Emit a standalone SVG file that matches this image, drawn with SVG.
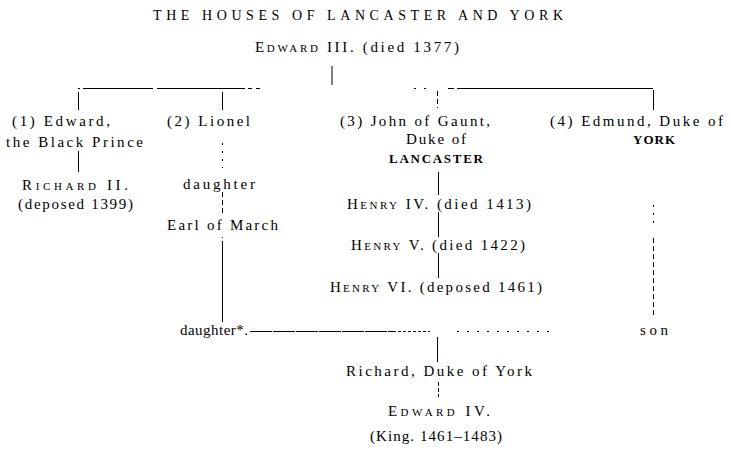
<svg xmlns="http://www.w3.org/2000/svg" width="731" height="451" viewBox="0 0 731 451">
<style>
text{font-family:"Liberation Serif","Times New Roman",serif;font-size:15px;fill:#000}
.sc{font-size:11px}
.bold{font-weight:bold;font-size:13px}
.title{font-size:14px}
.c line{stroke:#000;stroke-width:1;fill:none}
.dash{stroke-dasharray:5 3}
.dot{stroke-dasharray:2 6}
</style>
<rect width="731" height="451" fill="#fff"/>
<g id="title"><text class="title" x="153" y="20" textLength="410" lengthAdjust="spacing">THE HOUSES OF LANCASTER AND YORK</text></g>
<g id="edward3"><text x="255" y="52" textLength="204" lengthAdjust="spacing">E<tspan class="sc">DWARD</tspan> III. (died 1377)</text></g>
<g id="edward-bp"><text x="12" y="126" textLength="98" lengthAdjust="spacing">(1) Edward,</text><text x="6" y="147" textLength="137" lengthAdjust="spacing">the Black Prince</text></g>
<g id="richard2"><text x="22" y="190" textLength="106" lengthAdjust="spacing">R<tspan class="sc">ICHARD</tspan> II.</text><text x="18" y="209" textLength="115" lengthAdjust="spacing">(deposed 1399)</text></g>
<g id="lionel"><text x="167" y="126" textLength="83" lengthAdjust="spacing">(2) Lionel</text></g>
<g id="daughter1"><text x="183" y="189" textLength="72" lengthAdjust="spacing">daughter</text></g>
<g id="march"><text x="167" y="230" textLength="111" lengthAdjust="spacing">Earl of March</text></g>
<g id="john"><text x="340" y="126" textLength="150" lengthAdjust="spacing">(3) John of Gaunt,</text><text x="406" y="144" textLength="60" lengthAdjust="spacing">Duke of</text><text class="bold" x="389" y="163" textLength="94" lengthAdjust="spacing">LANCASTER</text></g>
<g id="edmund"><text x="550" y="126" textLength="173" lengthAdjust="spacing">(4) Edmund, Duke of</text><text class="bold" x="633" y="144" textLength="42" lengthAdjust="spacing">YORK</text></g>
<g id="henry4"><text x="347" y="209" textLength="184" lengthAdjust="spacing">H<tspan class="sc">ENRY</tspan> IV. (died 1413)</text></g>
<g id="henry5"><text x="351" y="250" textLength="174" lengthAdjust="spacing">H<tspan class="sc">ENRY</tspan> V. (died 1422)</text></g>
<g id="henry6"><text x="330" y="292" textLength="212" lengthAdjust="spacing">H<tspan class="sc">ENRY</tspan> VI. (deposed 1461)</text></g>
<g id="daughter2"><text x="180" y="335" textLength="68" lengthAdjust="spacing">daughter*.</text></g>
<g id="son"><text x="640" y="335" textLength="28" lengthAdjust="spacing">son</text></g>
<g id="richard-york"><text x="346" y="376" textLength="186" lengthAdjust="spacing">Richard, Duke of York</text></g>
<g id="edward4"><text x="388" y="416" textLength="102" lengthAdjust="spacing">E<tspan class="sc">DWARD</tspan> IV.</text><text x="370" y="441" textLength="132" lengthAdjust="spacing">(King. 1461–1483)</text></g>
<g id="connectors" class="c">
<line x1="332" y1="66" x2="332" y2="85"/>
<line x1="78" y1="88.5" x2="80" y2="88.5"/>
<line x1="83" y1="88.5" x2="153" y2="88.5"/>
<line x1="157" y1="88.5" x2="245" y2="88.5"/>
<line x1="248" y1="88.5" x2="252" y2="88.5"/>
<line x1="256" y1="88.5" x2="260" y2="88.5"/>
<line x1="414" y1="88.5" x2="416" y2="88.5"/>
<line x1="424" y1="88.5" x2="426" y2="88.5"/>
<line x1="448" y1="88.5" x2="454" y2="88.5"/>
<line x1="457" y1="88.5" x2="653" y2="88.5"/>
<line x1="78.5" y1="92" x2="78.5" y2="110"/>
<line x1="222.5" y1="92" x2="222.5" y2="110"/>
<line class="dash" x1="437.5" y1="91" x2="437.5" y2="108"/>
<line x1="653.5" y1="90" x2="653.5" y2="110"/>
<line x1="78.5" y1="151" x2="78.5" y2="172"/>
<line class="dot" x1="222.5" y1="143" x2="222.5" y2="168"/>
<line class="dash" x1="222.5" y1="192" x2="222.5" y2="215"/>
<line x1="222.5" y1="237" x2="222.5" y2="238"/>
<line x1="222.5" y1="241" x2="222.5" y2="322"/>
<line x1="438.5" y1="172" x2="438.5" y2="195"/>
<line x1="438.5" y1="212" x2="438.5" y2="237"/>
<line x1="438.5" y1="253" x2="438.5" y2="278"/>
<line class="dot" x1="653.5" y1="205" x2="653.5" y2="225"/>
<line class="dash" x1="653.5" y1="238" x2="653.5" y2="318"/>
<line x1="250" y1="331.5" x2="393" y2="331.5" style="stroke-dasharray:22 1"/>
<line x1="393" y1="331.5" x2="430" y2="331.5" style="stroke-dasharray:3 2"/>
<line x1="457" y1="331.5" x2="549" y2="331.5" style="stroke-dasharray:2 8"/>
<line x1="437.5" y1="337" x2="437.5" y2="362"/>
<line x1="438.5" y1="382" x2="438.5" y2="397" style="stroke-dasharray:4 2"/>
</g>
</svg>
